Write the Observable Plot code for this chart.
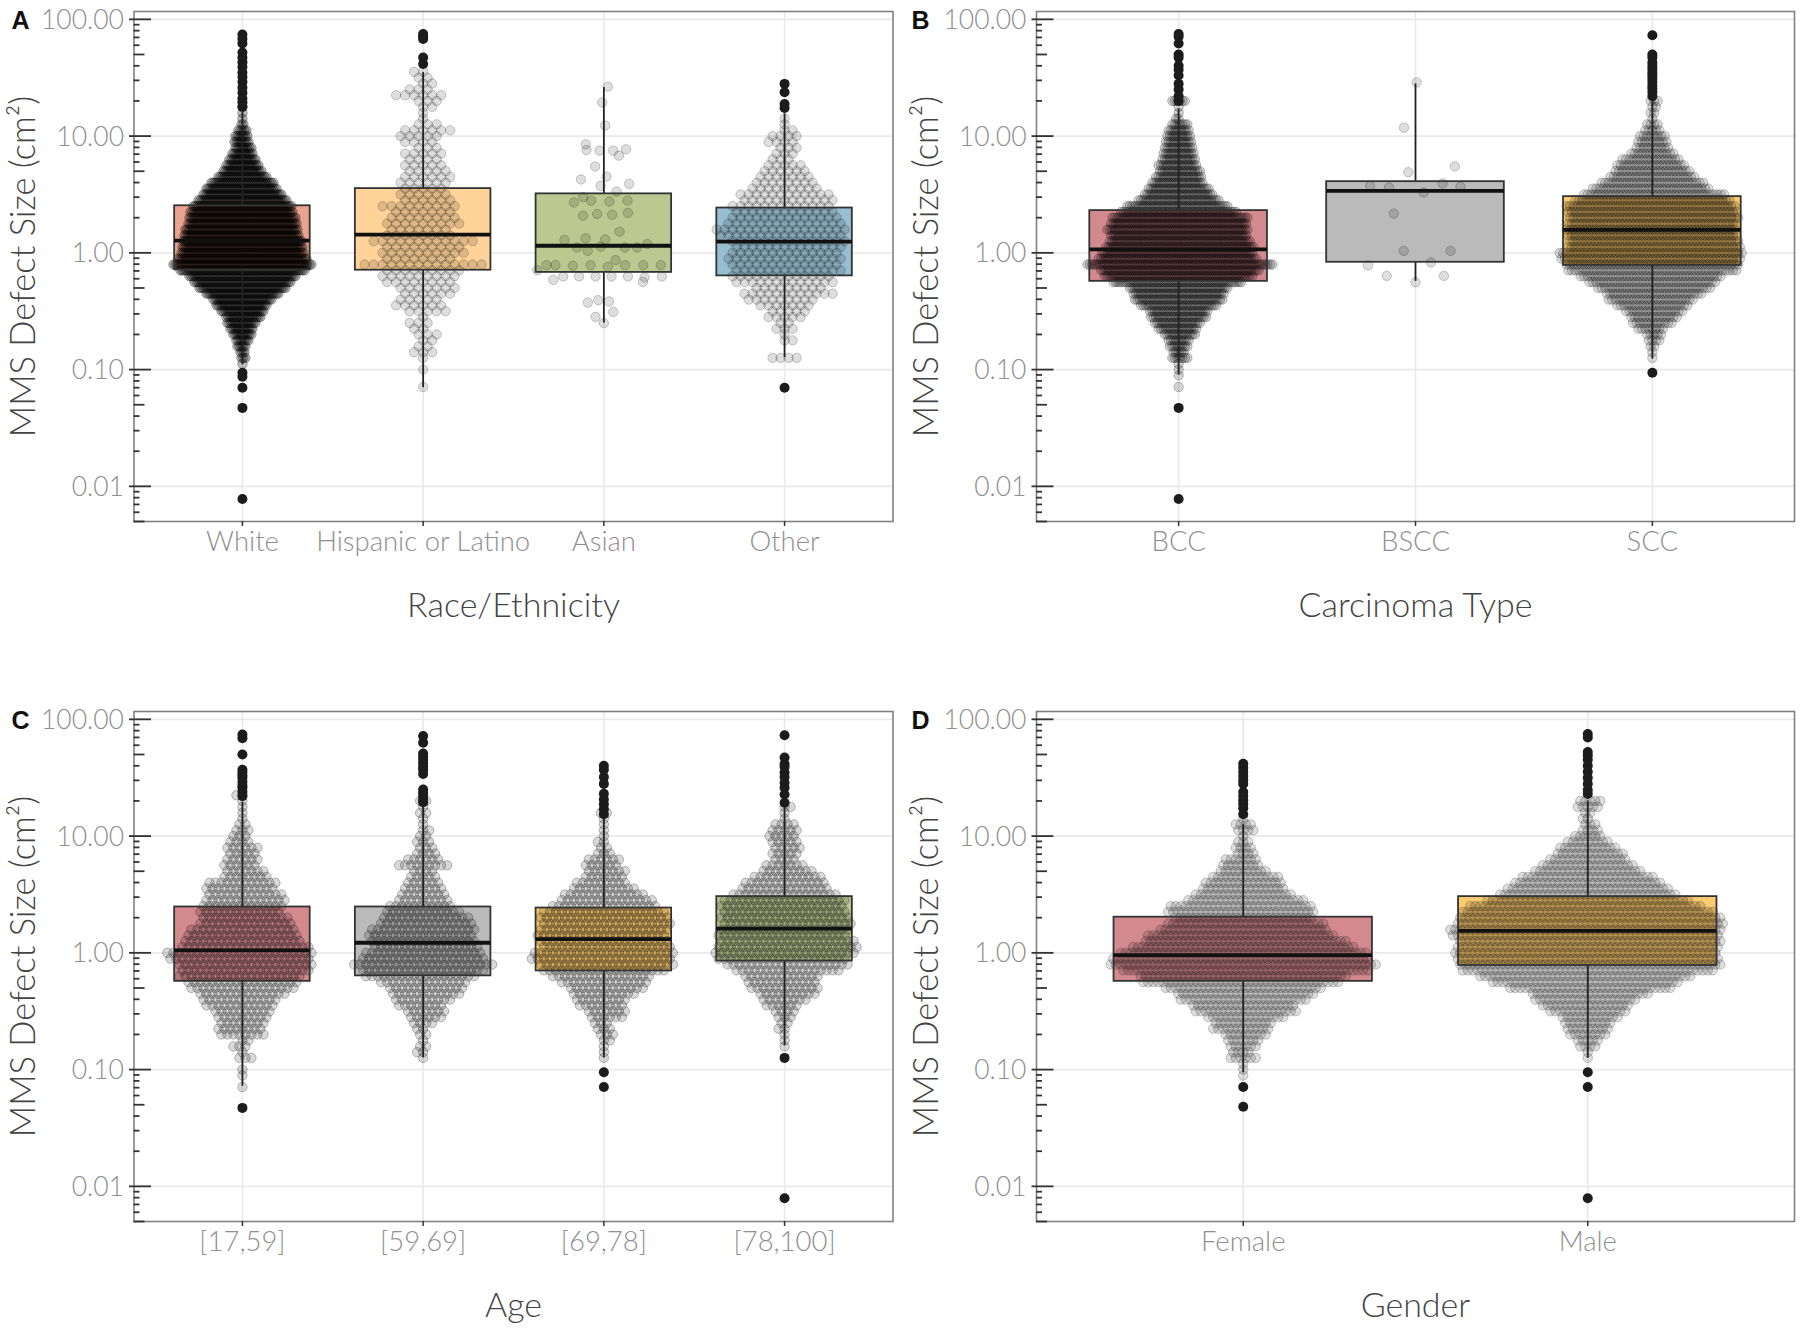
<!DOCTYPE html>
<html><head><meta charset="utf-8">
<script src="https://cdn.jsdelivr.net/npm/d3@7"></script>
<script src="https://cdn.jsdelivr.net/npm/@observablehq/plot@0.6"></script>
<style>
html,body{margin:0;padding:0;background:#fff}
#root{position:relative;width:1800px;height:1333px;overflow:hidden}
#root svg{position:absolute;overflow:visible;background:transparent}
</style></head><body><div id="root"></div>
<script>
// Swarm rows: defect-size levels (cm²) and the number of dots read in each row
const rowLevels=[0.071,0.079,0.089,0.100,0.112,0.126,0.141,0.158,0.178,0.200,0.224,0.251,0.282,0.316,0.355,0.398,0.447,0.501,0.562,0.631,0.708,0.794,0.891,1.00,1.12,1.26,1.41,1.58,1.78,2.00,2.24,2.51,2.82,3.16,3.55,3.98,4.47,5.01,5.62,6.31,7.08,7.94,8.91,10.0,11.2,12.6,14.1,15.8,17.8,20.0,22.4,25.1,28.2,31.6,35.5];

const whiteRows=[0,0,0,0,1,3,3,5,7,10,12,15,18,22,26,30,37,44,49,54,63,70,65,62,61,60,58,57,55,54,52,50,45,40,36,32,25,20,17,14,11,9,8,7,5,2,1,1,1];
const hispanicRows=[1,0,0,1,0,1,3,2,2,3,2,3,1,5,6,5,6,7,8,9,9,14,8,10,9,12,8,7,9,8,7,9,6,6,5,6,6,5,5,4,5,3,4,5,6,3,1,1,2,3,6,3,2,2,2];
const otherRows=[0,0,0,0,0,4,0,0,2,1,3,2,5,5,7,9,12,9,13,13,14,14,15,14,14,15,16,17,15,14,13,13,12,12,9,8,7,6,5,3,3,3,4,4,2,1,1];
const bccRows=[1,0,1,1,1,7,5,8,9,13,16,19,23,24,31,36,37,40,52,60,64,75,64,61,60,57,55,57,55,55,47,41,33,28,25,21,19,17,16,14,13,12,11,10,9,7,2,1,1,6];
const sccRows=[0,0,0,0,0,1,1,2,4,5,8,12,14,17,21,25,28,33,37,41,49,50,52,53,50,49,49,49,49,49,49,49,45,41,34,30,25,22,20,17,13,10,9,8,5,4,1,2,2,3];
const age1Rows=[1,0,1,1,0,3,1,3,2,8,8,8,9,10,12,13,15,18,19,21,22,23,24,25,22,20,19,18,16,15,14,14,14,13,12,12,8,7,6,6,5,6,4,3,3,2,1,1,1,1,2];
const age2Rows=[0,0,0,0,0,1,2,2,1,2,2,4,6,7,8,10,12,13,15,19,21,24,21,20,18,18,18,18,16,15,13,11,9,8,7,6,5,4,9,6,4,3,3,2,2,1,1,2,1,2];
const age3Rows=[0,0,0,0,0,1,1,1,2,3,3,3,6,7,8,9,11,13,15,17,21,23,24,24,22,22,22,22,22,22,21,18,16,14,11,9,7,7,6,6,3,2,2,1,1,1,1,2];
const age4Rows=[0,0,0,0,0,0,0,1,1,1,2,2,3,4,6,8,10,12,12,13,18,21,22,24,24,23,22,22,22,22,21,21,21,18,15,14,12,9,7,4,5,5,5,5,5,4,1,1,2];
const femaleRows=[0,0,1,1,1,6,4,6,7,9,12,12,16,21,21,26,28,32,40,42,50,54,52,50,45,41,38,34,32,28,30,29,24,20,17,16,14,10,8,7,4,4,3,1,4,4,1];
const maleRows=[0,0,0,0,0,1,1,4,5,8,9,10,12,16,18,21,24,33,38,43,51,53,53,53,53,53,54,55,54,53,51,47,41,36,33,30,27,22,19,16,14,12,9,6,4,3,2,2,5,5];

// Individually visible dots of the two small groups: value (cm²) and sideways shift in category widths
const asianValues=[26.5,19.4,12.3,8.5,7.6,7.5,7.5,7.7,6.8,5.5,4.5,4.25,3.9,3.75,3.35,3.0,2.7,2.8,2.75,2.8,2.08,2.15,2.12,2.2,1.52,1.29,1.33,1.3,1.11,1.13,1.11,1.11,1.19,1.04,0.865,0.784,0.784,0.774,0.784,0.76,0.784,0.784,0.784,0.71,0.587,0.627,0.627,0.627,0.627,0.627,0.615,0.564,0.627,0.375,0.393,0.383,0.312,0.283,0.25];
const asianShift=[.022,-.009,.007,-.1,-.096,-.024,.052,.122,.083,-.048,.015,-.127,.14,-.018,.07,-.114,-.166,-.07,.031,.131,-.116,-.037,.046,.133,.087,-.218,-.101,.007,-.149,-.018,.116,.185,.24,-.089,.065,-.317,-.268,-.172,-.074,.022,.118,.218,.315,-.369,-.28,-.225,-.137,-.046,.042,.133,.225,.216,.321,-.089,-.031,.028,.052,-.046,0];
const bsccValues=[28.8,11.8,4.9,5.5,3.75,3.63,3.93,3.68,3.29,2.17,1.04,1.04,0.78,0.826,0.635,0.635,0.56];
const bsccShift=[.006,-.064,-.04,.218,-.251,-.147,.15,.249,.045,-.12,-.065,.194,-.263,.086,-.159,.157,0];

// Outliers (cm²)
const whiteOut=[74,68,62,52,47,43,39,35,32,29,26,23.5,21,19.5,17.8,0.094,0.087,0.07,0.047,0.0078];
const hispanicOut=[75,71,68,47,41.5];
const asianOut=[];
const otherOut=[28,23.7,18.8,17.4,0.07];
const bccOut=[75,71,62,50,47,40,37,33,28,25,22,20,0.047,0.0078];
const bsccOut=[];
const sccOut=[73,50,47,42.7,39.9,37.5,35,33,31,29,27,25.5,23.8,22,0.094];
const age1Out=[74,69,50,37,35,33,31.5,29,27,26,24,22,0.047];
const age2Out=[72,63,51,48,45,42,39,37,34,25,23.5,22,20.5,19.5];
const age3Out=[40,37,32,28,23,20.6,18.7,17,15.4,0.095,0.071];
const age4Out=[73,47,41.5,39,35,32,28.6,25.9,22.7,19.3,0.126,0.0079];
const femaleOut=[41.7,38.5,35.5,32.7,30,27.9,23.8,22,20.3,18.8,17.3,15.4,0.071,0.048];
const maleOut=[75,70,52.5,49,45,40,35.5,31.6,28,24.8,22.9,0.095,0.071,0.0079];

// Box statistics: q1, median, q3, lower whisker, upper whisker (cm²)
const whiteBox=[0.715,1.27,2.53,0.11,16];
const hispanicBox=[0.71,1.43,3.55,0.07,35];
const asianBox=[0.68,1.15,3.2,0.25,26];
const otherBox=[0.635,1.25,2.42,0.127,15.5];
const bccBox=[0.57,1.07,2.3,0.09,17];
const bsccBox=[0.83,3.4,4.07,0.57,28];
const sccBox=[0.78,1.57,3.03,0.123,20];
const age1Box=[0.57,1.05,2.47,0.072,19.5];
const age2Box=[0.635,1.22,2.47,0.126,18.5];
const age3Box=[0.70,1.31,2.42,0.126,15];
const age4Box=[0.85,1.61,3.03,0.16,18];
const femaleBox=[0.57,0.955,2.02,0.094,12.6];
const maleBox=[0.78,1.54,3.03,0.125,20];

// Axis tick values and labels
const majorTicks=[100,10,1,0.1,0.01];
const midTicks=[50,5,0.5,0.05,0.005];
const minorTicks=[90,80,70,60,40,30,20,9,8,7,6,4,3,2,0.9,0.8,0.7,0.6,0.4,0.3,0.2,0.09,0.08,0.07,0.06,0.04,0.03,0.02,0.009,0.008,0.007,0.006];
const raceLabels=["White","Hispanic or Latino","Asian","Other"];
const typeLabels=["BCC","BSCC","SCC"];
const ageLabels=["[17,59]","[59,69]","[69,78]","[78,100]"];
const genderLabels=["Female","Male"];
const yTitle="MMS Defect Size (cm²)";

// Styles
const cSalmon="#e89b87",cPeach="#ffcf90",cGreen="#b5c487",cBlue="#8fbacd",cRose="#cf8086",cGray="#b4b4b4",cGold="#fbc766",cOlive="#b8c68c";
const FONT="Lato, sans-serif";
const sparse=[0.13,0.2],age=[0.15,0.26],gender=[0.13,0.22],scc=[0.14,0.22],bcc=[0.17,0.25],white=[0.25,0.33];

const panels=[
 {letter:"A",title:"Race/Ethnicity",labels:raceLabels,left:0,top:0,mL:133.5,mR:7.5,
  groups:[
   {rows:whiteRows,gap:2,box:whiteBox,out:whiteOut,fill:cSalmon,alpha:white},
   {rows:hispanicRows,gap:9,box:hispanicBox,out:hispanicOut,fill:cPeach,alpha:sparse},
   {values:asianValues,shift:asianShift,box:asianBox,out:asianOut,fill:cGreen,alpha:sparse},
   {rows:otherRows,gap:8,box:otherBox,out:otherOut,fill:cBlue,alpha:sparse}]},
 {letter:"B",title:"Carcinoma Type",labels:typeLabels,left:900,top:0,mL:136,mR:6,
  groups:[
   {rows:bccRows,gap:2.5,box:bccBox,out:bccOut,fill:cRose,alpha:bcc},
   {values:bsccValues,shift:bsccShift,box:bsccBox,out:bsccOut,fill:cGray,alpha:sparse},
   {rows:sccRows,gap:3.5,box:sccBox,out:sccOut,fill:cGold,alpha:scc}]},
 {letter:"C",title:"Age",labels:ageLabels,left:0,top:700,mL:133.5,mR:7.5,
  groups:[
   {rows:age1Rows,gap:6,box:age1Box,out:age1Out,fill:cRose,alpha:age},
   {rows:age2Rows,gap:6,box:age2Box,out:age2Out,fill:cGray,alpha:age},
   {rows:age3Rows,gap:6,box:age3Box,out:age3Out,fill:cGold,alpha:age},
   {rows:age4Rows,gap:6,box:age4Box,out:age4Out,fill:cOlive,alpha:age}]},
 {letter:"D",title:"Gender",labels:genderLabels,left:900,top:700,mL:136,mR:6,
  groups:[
   {rows:femaleRows,gap:5,box:femaleBox,out:femaleOut,fill:cRose,alpha:gender},
   {rows:maleRows,gap:5,box:maleBox,out:maleOut,fill:cGold,alpha:gender}]}
];

const W=900,H=633,mT=11,mB=112;
const yDomain=[0.005,116.7];
const root=document.getElementById("root");

for(const p of panels){
  const n=p.labels.length, x0=0.4, x1=n+0.6;
  const innerW=W-p.mL-p.mR, unit=(x1-x0)/innerW;       // category units per pixel of the frame
  const stepPx=innerW/(n+.2);
  const px=v=>x0+v*unit;
  const dots=[],outs=[],boxes=[];
  p.groups.forEach((g,i)=>{
    const c=i+1;
    if(g.rows) g.rows.forEach((k,r)=>{
      // brick pattern: neighbouring rows sit half a dot spacing apart
      const even=(r%2===0)===(k%2===0);
      const nudge=even&&k>1?(r%4<2?0.5:-0.5):0;
      for(let j=0;j<k;j++) dots.push({x:c+(j-(k-1)/2+nudge)*g.gap*unit,y:rowLevels[r],a:g.alpha[0],s:g.alpha[1]});
    });
    else g.values.forEach((v,j)=>dots.push({x:c+g.shift[j]*180.7/stepPx,y:v,a:g.alpha[0],s:g.alpha[1]}));
    g.out.forEach(v=>outs.push({x:c,y:v}));
    boxes.push({c,q1:g.box[0],med:g.box[1],q3:g.box[2],lo:g.box[3],hi:g.box[4],fill:g.fill});
  });
  const half=0.375;
  const svg=Plot.plot({
    width:W,height:H,marginLeft:p.mL,marginRight:p.mR,marginTop:mT,marginBottom:mB,
    style:{fontFamily:FONT,background:"transparent"},
    x:{type:"linear",domain:[x0,x1],axis:null},
    y:{type:"log",domain:yDomain,axis:null},
    marks:[
      // grid
      Plot.ruleY(majorTicks,{stroke:"#e9e9e9",strokeWidth:1.6}),
      Plot.ruleX(d3.range(1,n+1),{stroke:"#e9e9e9",strokeWidth:1.6}),
      // box fill under the swarm
      Plot.rect(boxes,{x1:d=>d.c-half,x2:d=>d.c+half,y1:"q1",y2:"q3",fill:"fill",fillOpacity:0.92}),
      // swarm
      Plot.dot(dots,{x:"x",y:"y",r:4.7,fill:"#000",fillOpacity:"a",stroke:"#000",strokeOpacity:"s",strokeWidth:1}),
      // whiskers, box outline, median
      Plot.ruleX(boxes,{x:"c",y1:"q3",y2:"hi",stroke:"#222",strokeWidth:1.8}),
      Plot.ruleX(boxes,{x:"c",y1:"q1",y2:"lo",stroke:"#222",strokeWidth:1.8}),
      Plot.rect(boxes,{x1:d=>d.c-half,x2:d=>d.c+half,y1:"q1",y2:"q3",fill:"none",stroke:"#333",strokeWidth:1.8}),
      Plot.ruleY(boxes,{x1:d=>d.c-half,x2:d=>d.c+half,y:"med",stroke:"#111",strokeWidth:3.8}),
      // outliers
      Plot.dot(outs,{x:"x",y:"y",r:5,fill:"#1c1c1c",stroke:"none"}),
      // frame
      Plot.frame({stroke:"#808080",strokeWidth:1.6}),
      // log ticks
      Plot.ruleY(majorTicks,{x1:px(-4.5),x2:px(17.5),stroke:"#333",strokeWidth:1.8}),
      Plot.ruleY(midTicks,{x1:px(0),x2:px(11),stroke:"#333",strokeWidth:1.8}),
      Plot.ruleY(minorTicks,{x1:px(0),x2:px(6),stroke:"#333",strokeWidth:1.8}),
      // axes
      Plot.axisY(majorTicks,{anchor:"left",tickSize:0,tickPadding:10,dy:1,tickFormat:d3.format(".2f"),label:null,
        fontSize:26.5,fontWeight:300,fill:"#8f8f8f"}),
      Plot.axisX(d3.range(1,n+1),{anchor:"bottom",tickSize:5,tickPadding:5,label:null,
        tickFormat:d=>p.labels[d-1],fontSize:27.5,fontWeight:300,fill:"#8f8f8f",stroke:"#333",strokeWidth:1.5}),
      // titles
      Plot.text([yTitle],{frameAnchor:"left",textAnchor:"middle",rotate:-90,dx:-110,fontSize:34.5,fontWeight:300,fill:"#444"}),
      Plot.text([p.title],{frameAnchor:"bottom",dy:95,fontSize:34,fontWeight:300,fill:"#444"}),
      Plot.text([p.letter],{frameAnchor:"top-left",dx:-p.mL+11,dy:0,textAnchor:"start",fontFamily:"Liberation Sans, Arial, sans-serif",fontWeight:"bold",fontSize:25,fill:"#111"})
    ]
  });
  svg.style.left=p.left+"px";
  svg.style.top=p.top+"px";
  root.appendChild(svg);
}
</script></body></html>
